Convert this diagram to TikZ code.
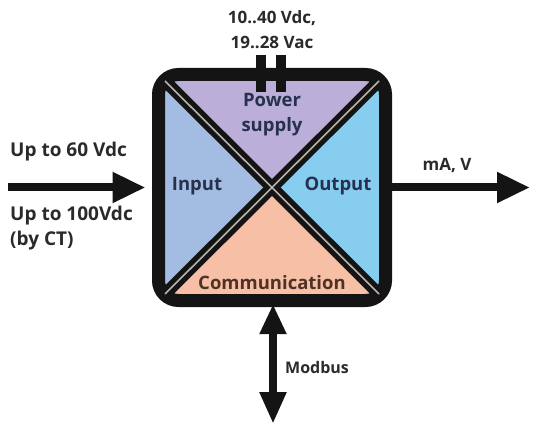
\documentclass[tikz,border=0pt]{standalone}
\usepackage{fontspec}
\setmainfont{Open Sans}
\usetikzlibrary{arrows.meta}
\definecolor{powerfill}{HTML}{BBAED8}
\definecolor{inputfill}{HTML}{A3BCE2}
\definecolor{outputfill}{HTML}{86CDEF}
\definecolor{commfill}{HTML}{F7C0A6}
\definecolor{framecolor}{HTML}{141414}
\definecolor{labeltext}{HTML}{27304D}
\definecolor{commtext}{HTML}{4E3226}
\definecolor{sidetext}{HTML}{2A2A2A}
\definecolor{seamcolor}{HTML}{B8B2AA}
\tikzset{
  unitframe/.style={draw=framecolor, line width=13pt, rounded corners=20pt, minimum width=227pt, minimum height=226pt, inner sep=0pt},
  xbar/.style={draw=framecolor, line width=12pt},
  xseam/.style={draw=seamcolor, line width=1.6pt},
  partlabel/.style={font=\bfseries\fontsize{18.5}{25}\selectfont, text=labeltext, align=center, inner sep=0pt},
  sidelabel/.style={font=\bfseries\fontsize{19}{25}\selectfont, text=sidetext, align=left, inner sep=0pt},
  bigarrow/.style={draw=framecolor, line width=8pt, -{Triangle[length=33pt,width=29pt]}},
  busarrow/.style={draw=framecolor, line width=8pt, {Triangle[length=30pt,width=25pt]}-{Triangle[length=32pt,width=25pt]}}
}
\begin{document}
\begin{tikzpicture}[x=1pt,y=-1pt]
  \useasboundingbox (0,0) rectangle (540,430);

  % inner corners and centre
  \coordinate (tl) at (165,81);
  \coordinate (tr) at (379,81);
  \coordinate (br) at (379,294);
  \coordinate (bl) at (165,294);
  \coordinate (ctr) at (272,187.5);

  % quadrants
  \fill[powerfill] (tl) -- (tr) -- (ctr) -- cycle;
  \fill[outputfill] (tr) -- (br) -- (ctr) -- cycle;
  \fill[commfill] (br) -- (bl) -- (ctr) -- cycle;
  \fill[inputfill] (bl) -- (tl) -- (ctr) -- cycle;

  \node[unitframe] (unit) at (ctr) {};

  % the X
  \draw[xbar] (tl) -- (br);
  \draw[xbar] (tr) -- (bl);
  \draw[xseam] (tl) -- (br);
  \draw[xseam] (tr) -- (bl);

  % supply terminals
  \fill[framecolor] (256,55) rectangle (266,92);
  \fill[framecolor] (276,55) rectangle (286,92);

  % labels in the unit
  \node[partlabel] (power) at (272,115) {Power\\supply};
  \node[partlabel] (input) at (197,186) {Input};
  \node[partlabel] (output) at (338,186) {Output};
  \node[partlabel, text=commtext] (comm) at (272,283) {Communication};

  % outside texts
  \node[sidelabel, align=center, font=\bfseries\fontsize{17}{25}\selectfont] (supply) at (272,30) {10..40 Vdc,\\19..28 Vac};
  \node[sidelabel, anchor=west] (dc60) at (10,152) {Up to 60 Vdc};
  \node[sidelabel, anchor=north west] (dc100) at (10,206) {Up to 100Vdc\\(by CT)};
  \node[sidelabel, font=\bfseries\fontsize{17}{18}\selectfont] (outsig) at (447,166) {mA, V};
  \node[sidelabel, font=\bfseries\fontsize{16}{20}\selectfont, anchor=west] (modbus) at (285,367) {Modbus};

  % arrows
  \coordinate (inL) at (8,187.5);
  \coordinate (outR) at (530,187.5);
  \coordinate (busEnd) at (273,424);
  \draw[bigarrow, shorten >=6.5pt] (inL) -- (unit.west);
  \draw[bigarrow] (unit.east) -- (outR);
  \draw[busarrow, shorten <=-3pt] ([xshift=1pt]unit.south) -- (busEnd);
\end{tikzpicture}
\end{document}
